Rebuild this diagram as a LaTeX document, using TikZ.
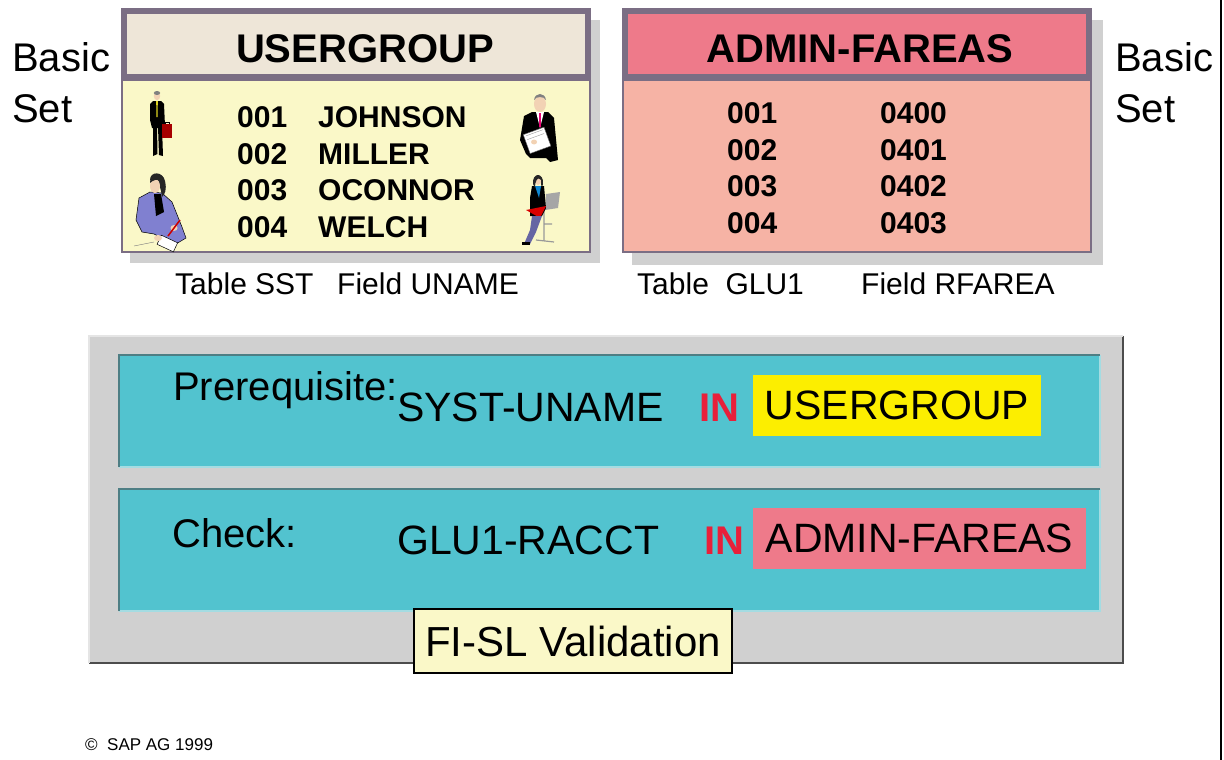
\documentclass[tikz,border=0pt]{standalone}
\usepackage{xcolor}
\usepackage{fontspec}
\setmainfont{Liberation Sans}
\usepackage{tikz}
\definecolor{frameC}{HTML}{7B6E84}
\definecolor{beigeC}{HTML}{EEE6D8}
\definecolor{creamC}{HTML}{FAF8C8}
\definecolor{pinkC}{HTML}{EE7A8A}
\definecolor{salmonC}{HTML}{F6B3A5}
\definecolor{shadowC}{HTML}{D0D0D0}
\definecolor{cyanC}{HTML}{52C3CF}
\definecolor{cyanD}{HTML}{4E7E84}
\definecolor{cyanL}{HTML}{A4DCE2}
\definecolor{yellowC}{HTML}{FCEE00}
\definecolor{redIN}{HTML}{E8203A}
\definecolor{skinC}{HTML}{F2D2B4}
\definecolor{suitC}{HTML}{8080D0}
\tikzset{
    HD1/.style ={rectangle, draw=frameC, line width=6pt, fill=beigeC, minimum width=464pt, minimum height=66pt},
    HD2/.style ={rectangle, draw=frameC, line width=6pt, fill=pinkC, minimum width=464pt, minimum height=66pt},
    BD1/.style ={rectangle, draw=frameC, line width=1.2pt, fill=creamC, minimum width=468pt, minimum height=172pt},
    BD2/.style ={rectangle, draw=frameC, line width=1.2pt, fill=salmonC, minimum width=468pt, minimum height=172pt},
    CY/.style ={rectangle, fill=cyanC, minimum width=981pt, minimum height=112pt},
    HL/.style ={rectangle, inner sep=0pt, minimum height=61pt, font=\fontsize{41}{48}\selectfont},
    TT/.style ={anchor=base, inner sep=0pt, font=\fontsize{40}{48}\selectfont\bfseries},
    RW/.style ={anchor=base west, inner sep=0pt, font=\fontsize{30}{36}\selectfont\bfseries},
    CP/.style ={anchor=base west, inner sep=0pt, font=\fontsize{30}{36}\selectfont},
    BT/.style ={anchor=base west, inner sep=0pt, font=\fontsize{40}{48}\selectfont},
    BX/.style ={anchor=base west, inner sep=0pt, font=\fontsize{41}{48}\selectfont},
    IN/.style ={anchor=base west, inner sep=0pt, text=redIN, font=\fontsize{40}{48}\selectfont\bfseries}
}

\begin{document}
\begin{tikzpicture}[x=1pt,y=-1pt]
    \useasboundingbox (0,0) rectangle (1224,760);
    \draw[line width=2pt] (1221,0) -- (1221,760);

    % the two basic sets
    \fill[shadowC] (130,20) rectangle (600,263);
    \fill[shadowC] (632,20) rectangle (1103,265);
    \node[BD1] (ugbody) at (356,166) {};
    \node[HD1] (ughead) at (356,44) {};
    \node[BD2] (fabody) at (857,166) {};
    \node[HD2] (fahead) at (857,44) {};
    \node[TT] (ugtitle) at (365,63) {USERGROUP};
    \node[TT] (fatitle) at (860,63) {ADMIN-FAREAS};

    \node[RW] (u1) at (237,127) {001};
    \node[RW] (u2) at (237,164) {002};
    \node[RW] (u3) at (237,200) {003};
    \node[RW] (u4) at (237,237) {004};
    \node[RW] (n1) at (318,127) {JOHNSON};
    \node[RW] (n2) at (318,164) {MILLER};
    \node[RW] (n3) at (318,200) {OCONNOR};
    \node[RW] (n4) at (318,237) {WELCH};

    \node[RW] (f1) at (727,123) {001};
    \node[RW] (f2) at (727,160) {002};
    \node[RW] (f3) at (727,196) {003};
    \node[RW] (f4) at (727,233) {004};
    \node[RW] (a1) at (880,123) {0400};
    \node[RW] (a2) at (880,160) {0401};
    \node[RW] (a3) at (880,196) {0402};
    \node[RW] (a4) at (880,233) {0403};

    \node[CP] (sst) at (175,294) {Table SST};
    \node[CP] (uname) at (337,294) {Field UNAME};
    \node[CP] (glu) at (637,294) {Table\ \ GLU1};
    \node[CP] (rfarea) at (861,294) {Field RFAREA};

    \node[BT] (basicL) at (12,72) {Basic};
    \node[BT] (setL) at (12,122) {Set};
    \node[BT] (basicR) at (1115,72) {Basic};
    \node[BT] (setR) at (1115,122) {Set};

    % man with briefcase
    \begin{scope}[shift={(150,90)}]
        \fill[skinC] (7,6) ellipse (3.2 and 4.2);
        \fill[gray] (7,3) ellipse (3.2 and 2);
        \fill[black] (0,14) -- (3,11) -- (11,11) -- (14,14) -- (15,36) -- (12,38) -- (2,38) -- (0,30) -- cycle;
        \fill[yellow!85!black] (6.2,11) -- (7.8,11) -- (7.6,27) -- (6.4,27) -- cycle;
        \fill[black] (3,37) -- (7,37) -- (7.5,64) -- (3,66) -- cycle;
        \fill[black] (8,37) -- (12,37) -- (13,66) -- (9,65) -- cycle;
        \fill[red!65!black] (12,34) rectangle (22,48);
        \draw[black, line width=0.8pt] (15,34) -- (15,32) -- (19,32) -- (19,34);
    \end{scope}

    % woman writing
    \begin{scope}[shift={(134,172)}]
        \fill[suitC] (5,26) -- (16,20) -- (28,21) -- (38,30) -- (48,55) -- (52,66) -- (42,72) -- (28,66) -- (20,62) -- (8,60) -- (2,48) -- cycle;
        \draw[black, line width=0.5pt] (5,26) -- (16,20) -- (28,21) -- (38,30) -- (48,55) -- (52,66) -- (42,72) -- (28,66) -- (20,62) -- (8,60) -- (2,48) -- cycle;
        \fill[black] (20,22) -- (27,22) -- (30,40) -- (22,44) -- cycle;
        \fill[black!85] (16,8) .. controls (16,-1) and (29,-1) .. (31,9) .. controls (33,18) and (31,22) .. (28,25) .. controls (27,18) and (26,12) .. (22,9) -- cycle;
        \fill[skinC] (21,14) ellipse (5 and 7);
        \fill[black!85] (16,9) .. controls (18,4) and (24,4) .. (27,8) .. controls (23,7) and (19,8) .. (16,11) -- cycle;
        \fill[white, draw=black, line width=0.5pt, rotate around={-25:(32,72)}] (24,66) rectangle (42,76);
        \fill[skinC] (24,66) ellipse (4 and 3);
        \fill[skinC] (40,56) ellipse (3.5 and 3);
        \draw[red!80!black, line width=1.5pt] (34,64) -- (46,48);
        \draw[black!50, line width=0.4pt] (0,74) -- (20,70);
    \end{scope}

    % man holding papers
    \begin{scope}[shift={(520,90)}]
        \fill[black] (4,26) -- (12,22) -- (28,22) -- (34,28) -- (38,70) -- (30,72) -- (26,68) -- (10,68) -- (6,64) -- (0,50) -- cycle;
        \fill[white] (16,22) -- (24,22) -- (20,38) -- cycle;
        \fill[magenta!80!red] (19.2,23) -- (20.8,23) -- (21,37) -- (19,37) -- cycle;
        \fill[skinC] (20,14) ellipse (6 and 8);
        \fill[gray] (14,10) .. controls (15,2) and (25,2) .. (26,10) .. controls (24,6) and (16,6) .. (14,10) -- cycle;
        \fill[white, draw=black!60, line width=0.4pt, rotate around={20:(18,50)}] (6,40) rectangle (28,60);
        \draw[black!40, line width=0.4pt, rotate around={20:(18,50)}] (8,42) -- (26,42) (8,46) -- (26,46);
        \fill[skinC] (14,52) ellipse (3 and 2.5);
    \end{scope}

    % woman on a stool
    \begin{scope}[shift={(518,172)}]
        \fill[gray!70] (28,22) -- (42,20) -- (40,36) -- (27,38) -- cycle;
        \draw[gray!80, line width=1.2pt] (26,38) -- (26,68) (18,68) -- (36,70) (26,52) -- (34,52);
        \fill[black] (14,14) -- (26,14) -- (28,36) -- (24,44) -- (12,44) -- (12,26) -- cycle;
        \fill[cyan!70!blue] (17,14) -- (23,14) -- (21,26) -- cycle;
        \fill[skinC] (20,8) ellipse (3.5 and 5);
        \fill[black!85] (15,12) .. controls (14,0) and (26,0) .. (25,12) .. controls (24,16) and (23,16) .. (23,8) .. controls (20,4) and (17,8) .. (17,16) -- cycle;
        \fill[red!85!black] (8,38) -- (28,34) -- (22,46) -- cycle;
        \fill[black!60!blue!60] (14,44) -- (24,44) -- (18,60) -- (12,72) -- (6,72) -- (12,58) -- cycle;
        \fill[black] (4,70) rectangle (12,73);
    \end{scope}

    % validation rules
    \node[rectangle, fill=shadowC, minimum width=1034pt, minimum height=327pt] (panel) at (606,499.5) {};
    \draw[gray!60!black, line width=1.5pt] (panel.north east) -- (panel.south east) -- (panel.south west);
    \draw[white!90!black, line width=1.5pt] (panel.south west) -- (panel.north west) -- (panel.north east);

    \node[CY] (prebox) at (609.5,411) {};
    \draw[cyanL, line width=2pt] (prebox.south west) -- (prebox.south east) -- (prebox.north east);
    \draw[cyanD, line width=1.5pt] (prebox.south west) -- (prebox.north west) -- (prebox.north east);
    \node[CY, minimum height=122pt] (chkbox) at (609.5,550) {};
    \draw[cyanL, line width=2pt] (chkbox.south west) -- (chkbox.south east) -- (chkbox.north east);
    \draw[cyanD, line width=1.5pt] (chkbox.south west) -- (chkbox.north west) -- (chkbox.north east);

    \node[BT] (prereq) at (173,400) {Prerequisite:};
    \node[BX] (syst) at (397,421) {SYST-UNAME};
    \node[IN] (in1) at (699,421) {IN};
    \node[HL, fill=yellowC, minimum width=288pt] (ugset) at (897,405.5) {USERGROUP};

    \node[BT] (check) at (172,547) {Check:};
    \node[BX] (racct) at (397,554) {GLU1-RACCT};
    \node[IN] (in2) at (704,554) {IN};
    \node[HL, fill=pinkC, minimum width=333pt] (faset) at (919.5,538.5) {ADMIN-FAREAS};

    \node[rectangle, draw=black, line width=1.2pt, fill=creamC, minimum width=318pt, minimum height=64pt, inner sep=0pt, font=\fontsize{42}{50}\selectfont] (fisl) at (573,641) {FI-SL Validation};

    \node[anchor=base west, inner sep=0pt, font=\fontsize{17}{20}\selectfont] (copy) at (85,750) {\textcopyright\ \ SAP AG 1999};
\end{tikzpicture}
\end{document}
